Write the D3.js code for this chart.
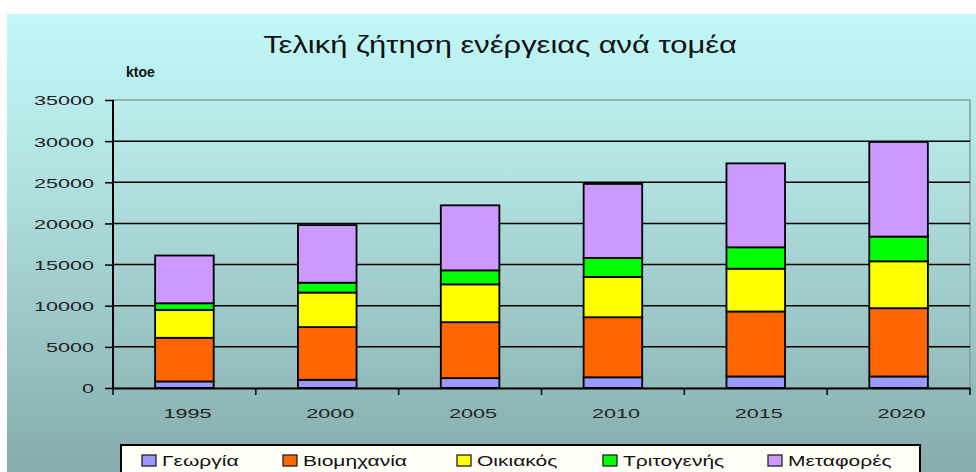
<!DOCTYPE html>
<html><head><meta charset="utf-8">
<script src="https://cdn.jsdelivr.net/npm/d3@7"></script>
<style>body{margin:0;background:#fff;}svg{display:block;}</style>
</head><body><svg id="c" width="976" height="472"></svg>
<script>
const categories = ["1995","2000","2005","2010","2015","2020"];
const seriesNames = ["Γεωργία","Βιομηχανία","Οικιακός","Τριτογενής","Μεταφορές"];
const georgia   = [800, 1000, 1200, 1300, 1400, 1400];
const industry  = [5300, 6400, 6800, 7300, 7900, 8300];
const household = [3400, 4200, 4600, 4900, 5200, 5700];
const tertiary  = [800, 1200, 1700, 2300, 2600, 3000];
const transport = [5800, 7000, 7900, 9000, 10200, 11500];
const yTicks = [0,5000,10000,15000,20000,25000,30000,35000];
const colors = ["#9999ff","#ff6600","#ffff00","#00ff00","#cc99ff"];
const title = "Τελική ζήτηση ενέργειας ανά τομέα";
const unit = "ktoe";

const rows = categories.map((c,i)=>({cat:c, [seriesNames[0]]:georgia[i], [seriesNames[1]]:industry[i], [seriesNames[2]]:household[i], [seriesNames[3]]:tertiary[i], [seriesNames[4]]:transport[i]}));
const stack = d3.stack().keys(seriesNames)(rows);

const svg = d3.select("#c");
const defs = svg.append("defs");
const g = defs.append("linearGradient").attr("id","bg").attr("x1",0).attr("y1",0).attr("x2",0).attr("y2",1);
g.append("stop").attr("offset","0").attr("stop-color","#c2f8f8");
g.append("stop").attr("offset","0.35").attr("stop-color","#b2e2e2");
g.append("stop").attr("offset","1").attr("stop-color","#84acaa");
svg.append("rect").attr("x",7).attr("y",14).attr("width",969).attr("height",458).attr("fill","url(#bg)");

const FONT = "Liberation Sans, Arial, sans-serif";
// horizontally stretch a text node about its anchor point
function stretch(sel, k){
  sel.each(function(){
    const t=d3.select(this);
    const x0=+t.attr("x")||0, y0=+t.attr("y")||0;
    t.attr("x",0).attr("y",0).attr("transform",`translate(${x0},${y0}) scale(${k},1)`);
  });
}

const L=113, R=970, T=100, B=388;
const x = d3.scaleBand().domain(categories).range([L,R]).paddingInner(0.59).paddingOuter(0.295);
const y = d3.scaleLinear().domain([0,35000]).range([B,T]);

// plot border
svg.append("rect").attr("x",L).attr("y",T).attr("width",R-L).attr("height",B-T).attr("fill","none").attr("stroke","#8a9a9a").attr("stroke-width",1.5);

// gridlines
svg.append("g").selectAll("line").data(yTicks.filter(v=>v>0 && v<35000)).join("line")
  .attr("x1",L).attr("x2",R).attr("y1",d=>y(d)).attr("y2",d=>y(d)).attr("stroke","#000").attr("stroke-width",1.5);

// bars
svg.append("g").selectAll("g").data(stack).join("g").attr("fill",(d,i)=>colors[i])
  .selectAll("rect").data(d=>d).join("rect")
  .attr("x",d=>x(d.data.cat)).attr("width",x.bandwidth())
  .attr("y",d=>y(d[1])).attr("height",d=>y(d[0])-y(d[1]))
  .attr("stroke","#000").attr("stroke-width",1.8);

// y axis
const ya = svg.append("g").attr("transform",`translate(${L},0)`)
  .call(d3.axisLeft(y).tickValues(yTicks).tickSize(8).tickPadding(0).tickFormat(d3.format("d")));
ya.select(".domain").attr("stroke","#000").attr("stroke-width",2).attr("d",`M0,${T}V${B}`);
ya.selectAll(".tick line").attr("stroke","#000").attr("stroke-width",1.5);
ya.selectAll(".tick text").attr("font-family",FONT).attr("font-size",13.5).attr("fill","#222").attr("x",-19).attr("y",0).attr("dy","0.36em");
stretch(ya.selectAll(".tick text"), 1.6);

// x axis
const xa = svg.append("g").attr("transform",`translate(0,${B})`)
  .call(d3.axisBottom(x).tickSize(0).tickPadding(0));
xa.select(".domain").attr("stroke","#000").attr("stroke-width",2);
xa.selectAll(".tick text").attr("font-family",FONT).attr("font-size",13.5).attr("fill","#222").attr("dy",0).attr("y",30).attr("x",3);
stretch(xa.selectAll(".tick text"), 1.6);
// boundary tick marks
const step = x.step();
svg.append("g").selectAll("line").data(d3.range(0,categories.length+1)).join("line")
  .attr("x1",i=>L+i*step).attr("x2",i=>L+i*step).attr("y1",B).attr("y2",B+7)
  .attr("stroke","#000").attr("stroke-width",1.5);

// title
const tt = svg.append("text").attr("x",500).attr("y",53).attr("text-anchor","middle")
  .attr("font-family",FONT).attr("font-size",24).attr("fill","#111").text(title);
stretch(tt, 474/tt.node().getComputedTextLength());
const ut = svg.append("text").attr("x",126).attr("y",77)
  .attr("font-family",FONT).attr("font-weight","bold").attr("font-size",14).attr("fill","#111").text(unit);

// legend
svg.append("rect").attr("x",121).attr("y",445).attr("width",799).attr("height",40).attr("fill","#fffff8").attr("stroke","#000").attr("stroke-width",2);
const legX = [142, 283, 457, 603, 768];
const lg = svg.append("g").selectAll("g").data(seriesNames).join("g").attr("transform",(d,i)=>`translate(${legX[i]},455)`);
lg.append("rect").attr("width",14).attr("height",11).attr("fill",(d,i)=>colors[i]).attr("stroke","#222").attr("stroke-width",1.3);
const lt = lg.append("text").attr("x",20).attr("y",11).attr("font-family",FONT).attr("font-size",15).attr("fill","#111").text(d=>d);
stretch(lt, 1.4);
</script></body></html>
